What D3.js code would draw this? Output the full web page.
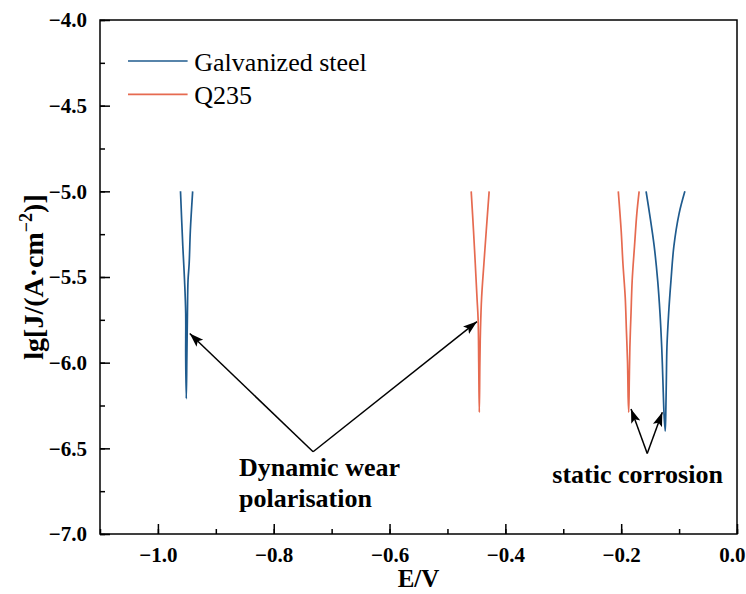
<!DOCTYPE html>
<html>
<head>
<meta charset="utf-8">
<script src="https://cdn.jsdelivr.net/npm/d3@7"></script>
<style>
  body { margin: 0; background: #fff; }
</style>
</head>
<body>
<div id="chart"></div>
<script>
// series values: [E (V), lg J]
var galvDynamic = [[-0.961, -5.00], [-0.957, -5.32], [-0.954, -5.52], [-0.952, -5.71], [-0.952, -5.97], [-0.951, -6.21],
                   [-0.950, -5.97], [-0.949, -5.71], [-0.948, -5.52], [-0.946, -5.42], [-0.944, -5.23], [-0.940, -5.00]];
var q235Dynamic = [[-0.459, -5.00], [-0.455, -5.23], [-0.452, -5.42], [-0.449, -5.62], [-0.447, -5.75], [-0.446, -6.00], [-0.445, -6.29],
                   [-0.444, -6.00], [-0.443, -5.81], [-0.441, -5.62], [-0.437, -5.42], [-0.433, -5.23], [-0.428, -5.00]];
var q235Static = [[-0.205, -5.00], [-0.200, -5.23], [-0.197, -5.42], [-0.193, -5.62], [-0.191, -5.81], [-0.189, -6.00], [-0.188, -6.20], [-0.187, -6.29],
                  [-0.186, -6.10], [-0.185, -5.91], [-0.183, -5.71], [-0.181, -5.52], [-0.177, -5.32], [-0.173, -5.13], [-0.169, -5.00]];
var galvStatic = [[-0.157, -5.00], [-0.151, -5.13], [-0.143, -5.32], [-0.137, -5.52], [-0.133, -5.71], [-0.130, -5.91], [-0.128, -6.10], [-0.126, -6.30], [-0.124, -6.40],
                  [-0.123, -6.30], [-0.122, -6.10], [-0.121, -5.91], [-0.118, -5.71], [-0.114, -5.52], [-0.109, -5.32], [-0.100, -5.13], [-0.090, -5.00]];

var seriesNames = ['Galvanized steel', 'Q235'];
var xTicks = [-1.0, -0.8, -0.6, -0.4, -0.2, 0.0];
var yTicks = [-7.0, -6.5, -6.0, -5.5, -5.0, -4.5, -4.0];

// annotations: arrow start, arrow ends, label
var dynArrowFrom = [-0.732, -6.52];
var dynArrowTo = [[-0.945, -5.83], [-0.449, -5.76]];
var dynLabel = ['Dynamic wear', 'polarisation'];
var dynLabelAt = [-0.860, -6.66];
var statArrowFrom = [-0.155, -6.53];
var statArrowTo = [[-0.183, -6.27], [-0.129, -6.29]];
var statLabel = 'static corrosion';
var statLabelAt = [-0.319, -6.70];

var blue = '#1f5b8e', red = '#e66a50';
var serif = '"Liberation Serif", "Times New Roman", serif';

var W = 746, H = 594;
var margin = {top: 20, right: 9, bottom: 60, left: 100};
var width = W - margin.left - margin.right,
    height = H - margin.top - margin.bottom;

var svg = d3.select('#chart').append('svg')
  .attr('width', W)
  .attr('height', H);

var defs = svg.append('defs');
defs.append('marker')
  .attr('id', 'arrow')
  .attr('markerUnits', 'userSpaceOnUse')
  .attr('viewBox', '-14 -6 16 12')
  .attr('refX', 0).attr('refY', 0)
  .attr('markerWidth', 16).attr('markerHeight', 12)
  .attr('orient', 'auto')
  .append('path')
  .attr('d', 'M0,0 L-14,-4.8 L-11,0 L-14,4.8 Z')
  .attr('fill', '#000');

var g = svg.append('g')
  .attr('transform', 'translate(' + margin.left + ',' + margin.top + ')');

var x = d3.scaleLinear().domain([-1.1, 0]).range([0, width]);
var y = d3.scaleLinear().domain([-7, -4]).range([height, 0]);

var fmt = d3.format('.1f');

// minor ticks
g.append('g')
  .attr('transform', 'translate(0,' + height + ')')
  .call(d3.axisBottom(x).tickValues(d3.range(-11, 1).map(function(d) { return d / 10; }))
    .tickSizeInner(-5).tickSizeOuter(0).tickFormat(''))
  .call(function(s) { s.select('.domain').remove(); });
g.append('g')
  .call(d3.axisLeft(y).tickValues(d3.range(-28, -15).map(function(d) { return d / 4; }))
    .tickSizeInner(-5).tickSizeOuter(0).tickFormat(''))
  .call(function(s) { s.select('.domain').remove(); });

// major axes
var xAxis = g.append('g')
  .attr('transform', 'translate(0,' + height + ')')
  .call(d3.axisBottom(x).tickValues(xTicks).tickFormat(fmt)
    .tickSizeInner(-10).tickSizeOuter(0).tickPadding(13));
var yAxis = g.append('g')
  .call(d3.axisLeft(y).tickValues(yTicks).tickFormat(fmt)
    .tickSizeInner(-10).tickSizeOuter(0).tickPadding(13));

[xAxis, yAxis].forEach(function(a) {
  a.selectAll('text')
    .style('font-family', serif)
    .attr('font-size', 21)
    .attr('font-weight', 'bold');
});
// keep the last x label inside the window
xAxis.selectAll('.tick text').filter(function(d) { return d === 0; })
  .attr('text-anchor', 'end').attr('dx', 8);
g.selectAll('.tick line').attr('stroke', '#000').attr('stroke-width', 1.5);

// frame
g.append('rect')
  .attr('width', width).attr('height', height)
  .attr('fill', 'none')
  .attr('stroke', '#000')
  .attr('stroke-width', 1.5);
g.selectAll('.domain').remove();

// curves
var line = d3.line()
  .x(function(d) { return x(d[0]); })
  .y(function(d) { return y(d[1]); })
  .curve(d3.curveCatmullRom.alpha(0.5));

[[galvDynamic, blue], [q235Dynamic, red], [q235Static, red], [galvStatic, blue]].forEach(function(s) {
  g.append('path')
    .datum(s[0])
    .attr('d', line)
    .attr('fill', 'none')
    .attr('stroke', s[1])
    .attr('stroke-width', 1.7);
});

// legend
var legend = g.append('g').attr('transform', 'translate(28,41)');
seriesNames.forEach(function(name, i) {
  var row = legend.append('g').attr('transform', 'translate(0,' + (i * 33.3) + ')');
  row.append('line')
    .attr('x1', 0).attr('x2', 59.6)
    .attr('stroke', i === 0 ? blue : red)
    .attr('stroke-width', 1.7);
  row.append('text')
    .attr('x', 66.3).attr('y', 10)
    .style('font-family', serif)
    .attr('font-size', 26)
    .text(name);
});

// annotations
function arrows(from, tos) {
  tos.forEach(function(t) {
    g.append('line')
      .attr('x1', x(from[0])).attr('y1', y(from[1]))
      .attr('x2', x(t[0])).attr('y2', y(t[1]))
      .attr('stroke', '#000')
      .attr('stroke-width', 1.5)
      .attr('marker-end', 'url(#arrow)');
  });
}
arrows(dynArrowFrom, dynArrowTo);
arrows(statArrowFrom, statArrowTo);

var dynText = g.append('text')
  .attr('x', x(dynLabelAt[0])).attr('y', y(dynLabelAt[1]))
  .style('font-family', serif)
  .attr('font-size', 26).attr('font-weight', 'bold');
dynLabel.forEach(function(t, i) {
  dynText.append('tspan')
    .attr('x', x(dynLabelAt[0]))
    .attr('dy', i === 0 ? 0 : 31)
    .text(t);
});

g.append('text')
  .attr('x', x(statLabelAt[0])).attr('y', y(statLabelAt[1]))
  .style('font-family', serif)
  .attr('font-size', 26).attr('font-weight', 'bold')
  .text(statLabel);

// axis titles
svg.append('text')
  .attr('x', margin.left + width / 2).attr('y', 587)
  .attr('text-anchor', 'middle')
  .style('font-family', serif)
  .attr('font-size', 25).attr('font-weight', 'bold')
  .text('E/V');

var yt = svg.append('text')
  .attr('transform', 'translate(43,' + (margin.top + height / 2) + ') rotate(-90)')
  .attr('text-anchor', 'middle')
  .style('font-family', serif)
  .attr('font-size', 28).attr('font-weight', 'bold');
yt.append('tspan').text('lg[J/(A\u00b7cm');
yt.append('tspan').attr('dy', -11).attr('font-size', 18).text('\u22122');
yt.append('tspan').attr('dy', 11).text(')]');
</script>
</body>
</html>
